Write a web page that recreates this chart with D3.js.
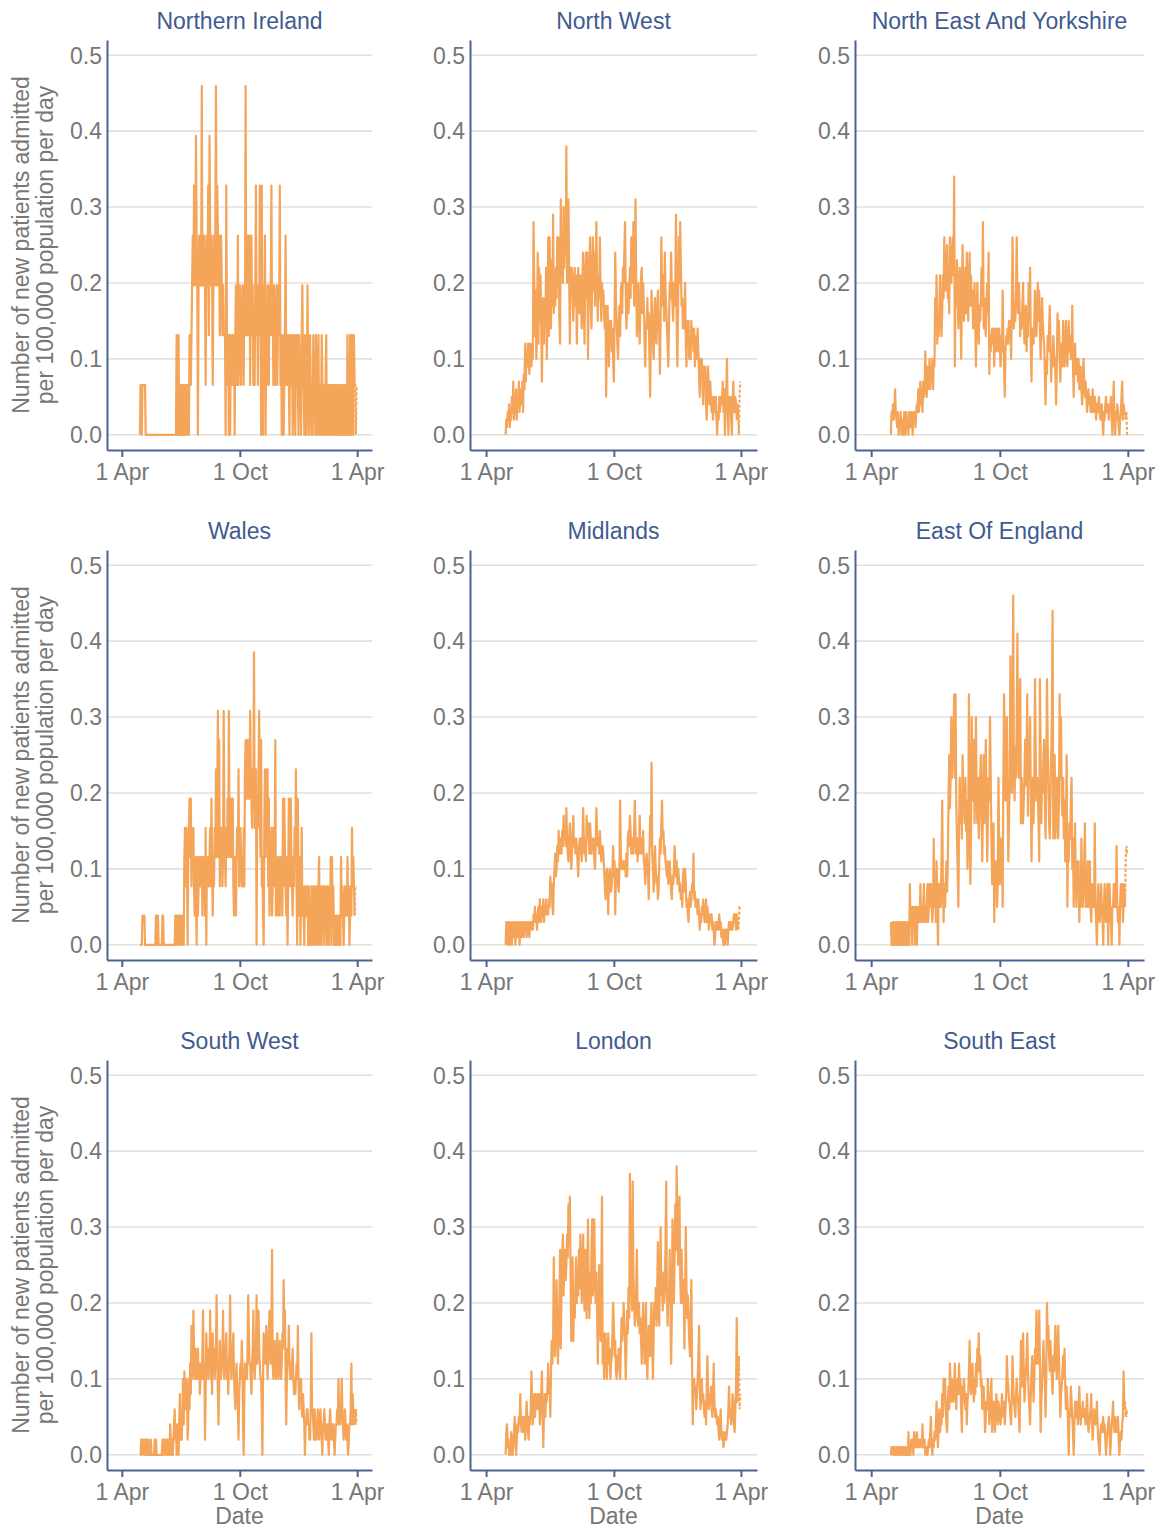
<!DOCTYPE html>
<html><head><meta charset="utf-8">
<script src="https://cdn.jsdelivr.net/npm/d3@7"></script>
<style>
body{margin:0;background:#fff}
svg text{font-family:"Liberation Sans",Arial,Helvetica,sans-serif}
</style>
</head><body>
<svg id="chart" width="1162" height="1528"></svg>
<script>
// ---------------- DATA ----------------
const startDate = "2020-04-29";           // first day of every series (daily values)
const xDomainDates = ["2020-03-09", "2021-04-24"];
const xTickDates = ["2020-04-01", "2020-10-01", "2021-04-01"];
const xTickLabels = ["1 Apr", "1 Oct", "1 Apr"];
const yTicks = [0, 0.1, 0.2, 0.3, 0.4, 0.5];
const regionNames = ["Northern Ireland", "North West", "North East And Yorkshire",
  "Wales", "Midlands", "East Of England", "South West", "London", "South East"];
const yTitleLines = ["Number of new patients admitted", "per 100,000 population per day"];
const xTitle = "Date";

// Northern Ireland: daily admission counts, population
const niPopulation = 1524000;
const niCounts = [0,1,1,0,1,1,1,1,1,
0,0,0,0,0,0,0,0,0,0,0,0,0,0,0,0,0,0,0,0,0,0,0,0,0,0,0,0,0,0,0,0,0,0,0,0,0,0,0,0,0,0,0,0,0,0,0,0,
2,0,0,2,0,1,0,1,0,1,1,0,1,0,1,1,0,1,1,0,2,2,1,
2,3,4,3,5,4,3,6,4,3,0,3,4,3,4,3,7,3,4,3,4,3,1,3,4,3,5,2,6,4,3,4,3,1,3,4,3,4,7,3,5,4,3,4,2,3,4,3,2,3,2,2,2,0,5,2,1,2,0,2,
0,2,1,2,1,2,2,0,2,3,1,2,4,1,2,3,2,1,2,3,2,1,3,2,7,2,3,2,4,2,4,1,3,4,2,3,1,2,1,3,5,2,3,1,3,2,5,3,0,5,2,0,3,2,4,0,2,1,3,2,1,3,2,3,5,2,3,1,3,2,1,2,3,1,2,3,2,5,1,2,0,1,2,0,1,2,4,1,2,1,2,1,0,2,
2,1,2,0,1,2,1,0,2,1,2,1,0,2,1,1,0,2,3,1,1,0,2,1,0,1,3,1,0,1,2,1,0,1,0,2,1,1,0,2,1,0,1,2,0,1,1,0,2,1,0,1,1,0,1,2,0,1,0,1,1,0,1,1,0,1,0,1,1,0,1,1,0,1,0,1,1,0,1,0,1,0,1,1,0,0,1,0,2,0,1,0,2,2,0,2,1,0,2,1,1,0,1];

// Wales: daily admission counts, population
const walesPopulation = 2597000;
const walesCounts = [0,0,0,0, 1,1,1,1,0, 0,0,0,0,0,0,0,0,0,0,0,0,0,0,0,0,
1,0,0,1,0,0,0,0,0,0,1,1,0, 0,0,0,0,0,0,0,0,0,0,0,0,0,0,0,0,0,
1,0,1,1,0,1,0,1,1,0,1,0,1,0,
3,4,2,4,3,0,3,4,5,3,5,2,4,3,4,2,1,3,2,0,3,1,2,3,2,3,2,3,1,3,2,
3,1,4,0,3,2,3,2,3,4,2,5,3,1,3,2,4,3,6,3,5,8,3,7,2,4,3,4,2,3,8,4,3,2,4,3,5,3,8,4,
3,5,3,4,5,2,1,3,2,1,3,4,3,6,2,3,4,3,2,3,2,4,2,6,7,5,7,6,5,7,5,8,6,5,4,6,5,10,4,5,6,0,5,4,6,8,5,3,7,2,3,1,0,4,6,3,6,4,6,2,
5,1,3,2,4,1,2,4,3,2,7,1,3,2,1,3,2,1,3,2,3,1,5,2,5,3,2,1,3,0,2,5,3,2,5,3,2,1,3,2,4,3,6,2,0,5,2,1,3,0,2,4,1,2,1,0,2,1,2,1,
2,0,2,0,1,0,2,0,1,2,0,2,1,0,2,1,0,2,3,0,2,1,0,2,1,2,0,2,1,2,0,2,1,0,2,1,3,0,3,1,2,0,1,0,0,1,0,1,1,0,1,0,3,1,2,1,0,1,2,1,
2,1,3,1,2,0,1,2,1,4,2,3,2,1,2,2,2];

// Rates per 100,000 per day
const northWest = [.00,.02,.01,.03,.02,.04,.01,.03,.02,
.05,.03,.07,.02,.04,.03,.06,.02,.05,.04,.07,.03,.06,.05,.04,.07,.03,
.08,.06,.12,.07,.11,.09,.12,.10,.08,.12,.11,.09,.12,.10,.28,
.20,.13,.19,.10,.14,.24,.12,.22,.15,.21,.14,.07,.17,.18,.12,.18,.15,.22,.10,.17,.26,.13,.26,.20,.14,.23,.17,.29,.16,.21,.17,.22,.18,.26,.20,.26,.15,.12,.31,.21,.25,.20,.30,.22,.27,.24,.38,.20,.27,.31,.21,.12,.22,.20,
.22,.18,.15,.20,.22,.17,.21,.12,.19,.22,.18,.16,.21,.18,.14,.20,.24,.17,.12,.20,.24,.18,.24,.10,.19,.22,.26,.17,.14,.21,.26,.19,.24,.17,.22,.28,.20,.15,.21,.18,.26,.19,.15,.20,.17,
.19,.16,.14,.17,.05,.15,.17,.13,.09,.15,.12,.15,.11,.14,.10,.07,.15,.24,.18,.15,.12,.10,.14,.17,.13,.19,.20,.16,.22,.20,.24,.28,.19,.14,.17,.20,.16,.19,.22,.18,.26,.21,.20,.28,.17,.22,.31,.20,.13,.18,.20,.15,.12,.17,.21,.22,.16,.20,.17,.12,
.09,.14,.15,.18,.14,.16,.10,.05,.13,.19,.15,.12,.10,.16,.18,.13,.12,.16,.19,.15,.13,.08,.15,.26,.19,.17,.21,.15,.24,.19,.17,.14,.12,.09,.15,.20,.18,.24,.19,.17,.15,.20,.17,.20,.29,.14,.09,.17,.26,.20,.28,.22,.17,.18,.14,.16,.14,.20,.12,.09,
.15,.12,.15,.10,.13,.10,.15,.12,.14,.11,.14,.09,.12,.13,.10,.14,.11,.08,.05,.10,.08,.10,.06,.04,.09,.07,.09,.04,.02,.07,.09,.05,.04,.07,.05,.03,.05,.02,.04,.05,.03,.05,.02,.00,.03,.02,.05,.03,.05,.04,.05,.07,.03,.06,.00,.04,.06,.10,.03,.00,
.05,.03,.05,.02,.00,.04,.07,.04,.03,.05,.04,.02,.04,.03,.00,.05,.07];

const northEastYorkshire = [.00,.03,.02,.04,.02,.03,.06,.03,.02,
.01,.03,.00,.02,.01,.03,.00,.02,.01,.00,.03,.02,.00,.03,.01,.02,.00,.03,.02,.01,.03,.02,.00,.03,.02,.03,.01,.03,
.04,.03,.06,.03,.05,.07,.04,.06,.03,.07,.05,.06,.11,
.07,.05,.09,.06,.08,.10,.06,.09,.07,.10,.06,.10,.09,
.18,.15,.21,.12,.16,.13,.17,.21,.15,.13,.16,.21,.18,.26,.20,.19,.23,.25,.18,.20,.16,.26,.21,.20,.24,.26,.21,.34,.09,.20,.17,.23,.19,.14,.18,.22,.17,
.10,.18,.25,.19,.15,.18,.22,.16,.24,.19,.15,.20,.24,.17,.21,.17,.19,.14,.17,.20,.15,.09,.16,.20,.15,.12,.17,.15,.18,.22,.17,.28,.14,.18,.15,.13,.17,.20,.16,.24,
.08,.13,.11,.13,.14,.12,.14,.09,.13,.14,.11,.14,.12,.11,.14,.12,.09,.13,.11,.19,.12,.09,.05,.11,.13,.12,.14,.12,.15,.13,.15,.10,.16,.26,.19,.14,.17,.15,.19,.26,.18,.16,.20,.17,.13,.16,.14,.17,.20,.15,.12,.15,.17,.11,.15,.13,.20,.15,.22,.12,
.07,.14,.12,.12,.15,.19,.14,.13,.16,.20,.15,.19,.14,.10,.14,.18,.15,.13,.12,.08,.04,.10,.08,.13,.11,.14,.17,.12,.07,.11,.09,.13,.11,.10,.08,.04,.09,.16,.12,.15,.10,.07,.11,.12,.09,.15,.11,.09,.12,.15,.10,.09,.13,.15,.11,.13,.10,.11,.17,.09,
.05,.10,.12,.08,.08,.10,.07,.10,.06,.08,.09,.06,.04,.07,.10,.07,.05,.07,.05,.03,.05,.06,.04,.05,.03,.05,.03,.06,.04,.03,.05,.04,.02,.04,.03,.04,.05,.03,.02,.03,.04,.02,.00,.03,.02,.04,.05,.03,.04,.03,.02,.04,.03,.05,.02,.00,.04,.07,.02,.00,
.03,.02,.04,.03,.01,.00,.02,.03,.05,.07,.02,.04,.03,.03,.02,.03,.00];

const midlands = [.00,.03,.01,.00,.03,.02,.00,.03,.01,
.00,.03,.02,.01,.03,.00,.02,.03,.01,.02,.03,.00,.02,.03,.01,.03,.02,.01,.03,.02,.03,.01,.02,.03,.02,.01,.03,.02,.03,
.03,.02,.04,.03,.05,.03,.04,.02,.04,.05,.03,.06,.04,.03,.05,.04,.06,.03,.05,.04,.06,.04,.05,.04,.06,.05,
.09,.07,.08,.05,.04,.08,.10,.12,.09,.10,.13,.11,.15,.12,.13,.14,.12,.15,.13,.17,.14,.15,.13,.18,.14,.12,.11,.14,.16,.13,.10,.12,.15,.17,.13,.14,
.12,.14,.13,.11,.09,.12,.14,.12,.14,.11,.13,.18,.14,.12,.13,.11,.17,.14,.16,.14,.12,.16,.14,.12,.14,.13,.14,.11,.10,.13,.18,.15,.13,.14,.12,.15,.13,.11,.12,.13,
.12,.10,.08,.06,.09,.10,.08,.04,.09,.10,.09,.07,.08,.10,.13,.09,.11,.04,.09,.10,.10,.08,.07,.10,.19,.12,.10,.11,.10,.11,.10,.11,.09,.12,.09,.14,.15,.13,.17,.15,.12,.13,.14,.12,.15,.19,.15,.12,.14,.11,.14,.12,.17,.13,.12,.14,.12,.15,.11,.10,
.08,.11,.12,.10,.09,.06,.12,.17,.13,.24,.12,.10,.07,.11,.13,.10,.08,.09,.06,.07,.11,.14,.12,.16,.19,.14,.15,.12,.13,.11,.10,.09,.11,.08,.10,.11,.09,.07,.06,.09,.08,.10,.13,.11,.09,.11,.08,.10,.09,.07,.08,.06,.07,.05,.09,.10,.07,.10,.08,.05,
.06,.04,.03,.06,.07,.05,.06,.08,.07,.12,.06,.07,.05,.06,.05,.04,.06,.04,.02,.04,.03,.05,.04,.06,.04,.03,.04,.06,.03,.05,.04,.02,.03,.04,.03,.04,.02,.03,.02,.00,.01,.03,.02,.03,.02,.03,.04,.02,.03,.01,.02,.01,.00,.02,.00,.02,.01,.02,.00,.02,
.03,.02,.03,.02,.03,.02,.03,.04,.03,.04,.02,.04,.03,.02,.03,.05,.05];

const eastOfEngland = [.03,.00,.00,.03,.00,.03,.00,.00,.03,.00,.03,.00,.00,.03,.00,.03,.00,.03,.00,.03,.00,.03,.00,.03,.00,.03,.00,
.08,.03,.05,.00,.05,.03,.05,.00,.05,.03,.00,.05,.03,.05,.03,.08,.03,.05,.03,.05,.08,.03,.05,.03,.05,.08,.03,.05,.08,.05,.08,.05,.03,.05,
.14,.05,.08,.03,.11,.05,.00,.08,.05,.08,.05,.11,.19,.08,.03,.08,.05,.08,.11,.07,.11,.19,.25,.18,.22,.30,.22,.25,.27,.33,.22,.33,.19,.14,.10,.05,.16,.22,.16,
.19,.14,.25,.19,.20,.16,.22,.15,.19,.10,.14,.33,.19,.08,.14,.30,.22,.19,.27,.16,.22,.30,.19,.16,.22,.14,.19,.22,.25,.16,.11,.19,.25,.16,.22,.27,.19,.11,.16,.22,
.19,.30,.22,.14,.08,.14,.16,.03,.11,.08,.11,.05,.08,.22,.14,.08,.11,.14,.11,.05,.22,.33,.27,.19,.20,.30,.19,.11,.16,.22,.38,.25,.20,.30,.46,.22,.19,.26,.22,.30,.41,.25,.22,.30,.35,.16,.22,.19,.16,.19,.22,.27,.21,.25,.33,.17,.25,.22,.30,.20,
.11,.19,.22,.16,.22,.35,.25,.19,.22,.20,.16,.11,.35,.25,.16,.22,.20,.25,.27,.19,.14,.22,.35,.27,.22,.16,.14,.19,.25,.30,.44,.14,.22,.25,.14,.19,.22,.16,.14,.19,.33,.22,.30,.19,.17,.22,.14,.19,.11,.16,.25,.05,.14,.11,.16,.14,.19,.22,.10,.14,
.05,.11,.16,.08,.05,.11,.08,.11,.03,.08,.05,.14,.08,.05,.08,.11,.16,.05,.08,.05,.11,.05,.08,.11,.05,.03,.08,.05,.08,.05,.16,.05,.03,.00,.05,.08,.05,.03,.05,.08,.05,.03,.00,.05,.08,.05,.03,.05,.08,.00,.05,.08,.05,.03,.00,.05,.05,.08,.05,.08,
.05,.13,.05,.03,.05,.00,.05,.08,.05,.08,.03,.05,.08,.05,.11,.13,.12];

const southWest = [.00,.00,.02,.02,.00,.02,.02,.00,.02,.02,.00,.02,.00,.02,.00,.00,.00,.02,.00,.00,.00,.00,.00,.02,.00,.02,.00,.00,.00,.00,.00,.00,.00,.00,.00,.02,.00,.02,.02,.00,.02,.02,.00,.02,.00,.02,.00,.04,.02,.00,.02,.00,.02,.04,.06,.02,.04,.00,.02,.04,
.00,.04,.08,.02,.04,.02,.06,.10,.04,.11,.08,.06,.10,.08,.02,.04,.10,.06,.12,.08,.17,.10,.12,.19,.14,.10,.14,.12,.10,.12,.14,.10,.12,.08,.10,.12,.10,.14,.19,.10,.12,.02,.08,.16,.12,.14,.10,.14,.12,.19,.10,.12,.08,.16,.12,.14,.10,.12,.14,.21,
.12,.08,.04,.10,.15,.12,.10,.12,.14,.19,.12,.10,.12,.14,.16,.10,.12,.08,.12,.14,.21,.12,.10,.12,.14,.16,.10,.08,.06,.10,.12,.08,.06,.02,.08,.10,.12,.10,.15,.12,.04,.00,.08,.12,.10,.12,.10,.14,.21,.16,.12,.12,.10,.08,.12,.14,.19,.12,.10,.12,
.14,.21,.12,.16,.19,.14,.12,.10,.10,.06,.00,.10,.16,.12,.14,.12,.17,.14,.10,.12,.16,.19,.14,.12,.16,.27,.12,.10,.12,.15,.12,.10,.12,.16,.12,.10,.12,.15,.12,.10,.12,.16,.14,.23,.16,.19,.10,.04,.10,.14,.12,.17,.12,.10,.12,.10,.12,.14,.10,.08,
.10,.08,.10,.12,.10,.17,.10,.06,.10,.08,.10,.06,.05,.08,.06,.04,.00,.04,.04,.06,.06,.04,.04,.02,.02,.06,.16,.06,.06,.04,.02,.06,.04,.02,.02,.04,.06,.04,.02,.04,.06,.04,.02,.00,.04,.04,.06,.04,.02,.02,.04,.04,.02,.00,.04,.06,.04,.02,.02,.04,
.04,.02,.00,.02,.04,.04,.06,.04,.10,.06,.04,.04,.06,.10,.06,.04,.02,.04,.06,.04,.02,.04,.02,.00,.02,.04,.04,.06,.12,.04,.08,.06,.04,.06,.04,.06,.04];

const london = [.00,.03,.04,.01,.02,.00,.01,.00,.03,.02,.00,.01,.03,.05,.03,.00,.02,.04,.03,.05,.04,.08,.04,.03,.05,.04,.03,.05,.02,.04,.07,.05,.03,.02,.05,.04,.06,.11,.07,.04,.06,.08,.05,.08,.06,.07,.08,.06,.08,.04,.06,.08,.11,.05,.01,.06,.08,.05,.08,.07,
.09,.12,.08,.10,.05,.11,.15,.12,.15,.26,.17,.13,.19,.23,.17,.12,.16,.20,.27,.14,.21,.26,.29,.21,.25,.27,.23,.25,.29,.26,.33,.28,.34,.24,.15,.20,.26,.15,.21,.18,.23,.26,.20,.24,.21,.27,.22,.29,.24,.20,.25,.29,.22,.19,.27,.23,.18,.25,.31,.21,
.18,.24,.20,.27,.31,.21,.26,.31,.23,.20,.24,.19,.12,.19,.25,.20,.15,.22,.34,.12,.16,.10,.14,.16,.12,.10,.13,.16,.12,.14,.10,.12,.13,.16,.20,.17,.13,.15,.11,.10,.13,.12,.14,.11,.10,.14,.18,.15,.17,.20,.17,.15,.10,.14,.19,.16,.22,.18,.37,.26,
.23,.19,.36,.24,.20,.17,.18,.22,.27,.19,.17,.20,.16,.18,.15,.12,.17,.20,.16,.12,.15,.20,.13,.10,.14,.17,.15,.13,.18,.20,.14,.10,.16,.20,.18,.22,.17,.21,.28,.19,.17,.24,.30,.21,.22,.19,.24,.20,.22,.28,.36,.21,.17,.22,.20,.27,.19,.12,.18,.31,
.24,.20,.26,.33,.27,.38,.30,.25,.29,.34,.24,.20,.27,.22,.20,.23,.14,.21,.30,.22,.18,.21,.18,.15,.13,.18,.23,.12,.04,.09,.10,.08,.09,.06,.08,.10,.13,.17,.09,.06,.08,.10,.07,.08,.06,.05,.07,.04,.09,.13,.07,.06,.08,.07,.09,.06,.05,.08,.12,.07,
.05,.06,.05,.04,.05,.03,.02,.04,.06,.03,.02,.03,.01,.02,.03,.02,.02,.03,.04,.06,.09,.05,.06,.04,.05,.08,.07,.04,.03,.06,.09,.18,.07,.10,.13,.06,.08];

const southEast = [.00,.01,.00,.01,.01,.00,.01,.00,.01,.01,.00,.01,.00,.01,.01,.00,.01,.00,.01,.01,.00,.01,.00,.01,.00,.03,.00,.01,.00,.02,.01,.02,.00,.03,.01,.01,.02,.03,.01,.01,.02,.01,.02,.02,.01,.04,.01,.01,.02,.00,.01,.01,.00,.01,.02,.01,.03,.05,.01,.00,
.02,.01,.03,.02,.04,.07,.03,.01,.04,.06,.03,.05,.04,.08,.05,.10,.07,.10,.06,.04,.03,.07,.09,.06,.12,.09,.07,.10,.09,.07,.09,.12,.08,.06,.09,.10,.08,.12,.08,.10,.06,.03,.09,.07,.10,.08,.06,.08,.04,.07,.08,.11,.15,.10,.08,.10,.12,.09,.07,.10,
.08,.12,.09,.14,.11,.16,.11,.13,.09,.10,.06,.08,.09,.06,.03,.05,.07,.06,.10,.07,.04,.06,.08,.10,.03,.05,.07,.05,.03,.06,.08,.06,.04,.07,.06,.05,.04,.06,.08,.06,.05,.07,.04,.06,.08,.13,.10,.09,.07,.07,.05,.04,.08,.13,.09,.07,.06,.05,.08,.10,
.08,.07,.05,.03,.09,.15,.10,.09,.16,.11,.07,.09,.11,.13,.16,.11,.08,.06,.04,.08,.11,.13,.10,.07,.10,.14,.12,.19,.14,.12,.15,.19,.12,.03,.07,.09,.12,.15,.12,.10,.05,.10,.20,.15,.17,.13,.11,.15,.12,.10,.08,.13,.11,.14,.17,.12,.10,.14,.17,.13,
.09,.05,.08,.09,.11,.13,.10,.14,.09,.06,.09,.07,.04,.00,.06,.05,.09,.07,.05,.03,.00,.04,.07,.05,.07,.06,.04,.06,.09,.06,.04,.06,.05,.07,.05,.06,.05,.04,.06,.08,.05,.03,.04,.05,.06,.08,.04,.02,.04,.06,.05,.04,.05,.07,.04,.02,.01,.00,.03,.04,
.03,.04,.05,.03,.04,.02,.00,.02,.03,.04,.05,.03,.00,.02,.04,.05,.07,.04,.03,.05,.04,.03,.04,.05,.02,.00,.02,.03,.02,.04,.05,.11,.06,.07,.05,.06,.05];

// ---------------- CHART ----------------
const per100k = (counts, pop) => counts.map(c => c / pop * 100000);
const seriesValues = [
  per100k(niCounts, niPopulation), northWest, northEastYorkshire,
  per100k(walesCounts, walesPopulation), midlands, eastOfEngland,
  southWest, london, southEast
];

const parse = d3.utcParse("%Y-%m-%d");
const start = parse(startDate);
const colBounds = [[107, 372], [470, 757], [855, 1144]];
const rowBounds = [[40, 450], [550, 960], [1060, 1470]];

const C = {
  line: "#f4a559", grid: "#e0e0e0", axis: "#4a6591",
  title: "#3f5b8f", tick: "#777777", label: "#777777"
};
const FS = 23;

const svg = d3.select("#chart");

seriesValues.forEach((vals, i) => {
  const r = Math.floor(i / 3), c = i % 3;
  const [x0, x1] = colBounds[c];
  const [top, bottom] = rowBounds[r];
  const x = d3.scaleUtc().domain(xDomainDates.map(parse)).range([x0, x1]);
  const y = d3.scaleLinear().domain([-0.02, 0.52]).range([bottom, top]);
  const g = svg.append("g");

  // gridlines
  g.selectAll("line.grid").data(yTicks).join("line")
    .attr("x1", x0).attr("x2", x1)
    .attr("y1", d => y(d)).attr("y2", d => y(d))
    .attr("stroke", C.grid).attr("stroke-width", 1.6);

  // data
  const pts = vals.map((v, k) => ({ date: d3.utcDay.offset(start, k), v }));
  const line = d3.line().x(d => x(d.date)).y(d => y(d.v));
  const nSolid = pts.length - 4;
  g.append("path").datum(pts.slice(0, nSolid + 1))
    .attr("d", line).attr("fill", "none")
    .attr("stroke", C.line).attr("stroke-width", 2.2).attr("stroke-linejoin", "round");
  g.append("path").datum(pts.slice(nSolid))
    .attr("d", line).attr("fill", "none")
    .attr("stroke", C.line).attr("stroke-width", 2.2).attr("stroke-dasharray", "3,2");

  // y axis
  const ya = g.append("g").attr("transform", `translate(${x0},0)`)
    .call(d3.axisLeft(y).tickValues(yTicks).tickFormat(d3.format(".1f"))
      .tickSize(0).tickSizeOuter(0).tickPadding(5));
  ya.select(".domain").attr("stroke", C.axis).attr("stroke-width", 2);
  ya.selectAll("text").attr("fill", C.tick).attr("font-size", FS)
    .attr("font-family", "Liberation Sans, Arial, sans-serif").attr("dy", "0.34em");
  ya.attr("font-size", null).attr("font-family", null);

  // x axis
  const xa = g.append("g").attr("transform", `translate(0,${bottom})`)
    .call(d3.axisBottom(x).tickValues(xTickDates.map(parse))
      .tickFormat((d, k) => xTickLabels[k]).tickSize(7).tickSizeOuter(0));
  xa.select(".domain").attr("stroke", C.axis).attr("stroke-width", 2);
  xa.selectAll(".tick line").attr("stroke", C.axis).attr("stroke-width", 2);
  xa.selectAll("text").attr("fill", C.tick).attr("font-size", FS)
    .attr("font-family", "Liberation Sans, Arial, sans-serif")
    .attr("y", 30).attr("dy", null);
  xa.attr("font-size", null).attr("font-family", null);

  // panel title
  g.append("text").attr("x", (x0 + x1) / 2).attr("y", top - 11)
    .attr("text-anchor", "middle").attr("fill", C.title).attr("font-size", FS)
    .text(regionNames[i]);

  // x title (bottom row)
  if (r === 2) {
    g.append("text").attr("x", (x0 + x1) / 2).attr("y", bottom + 54)
      .attr("text-anchor", "middle").attr("fill", C.label).attr("font-size", FS)
      .text(xTitle);
  }
  // y title (first column)
  if (c === 0) {
    const cy = (top + bottom) / 2;
    [29, 53].forEach((bx, k) => {
      g.append("text").attr("transform", `translate(${bx},${cy}) rotate(-90)`)
        .attr("text-anchor", "middle").attr("fill", C.label).attr("font-size", FS)
        .text(yTitleLines[k]);
    });
  }
});
</script>
</body></html>
